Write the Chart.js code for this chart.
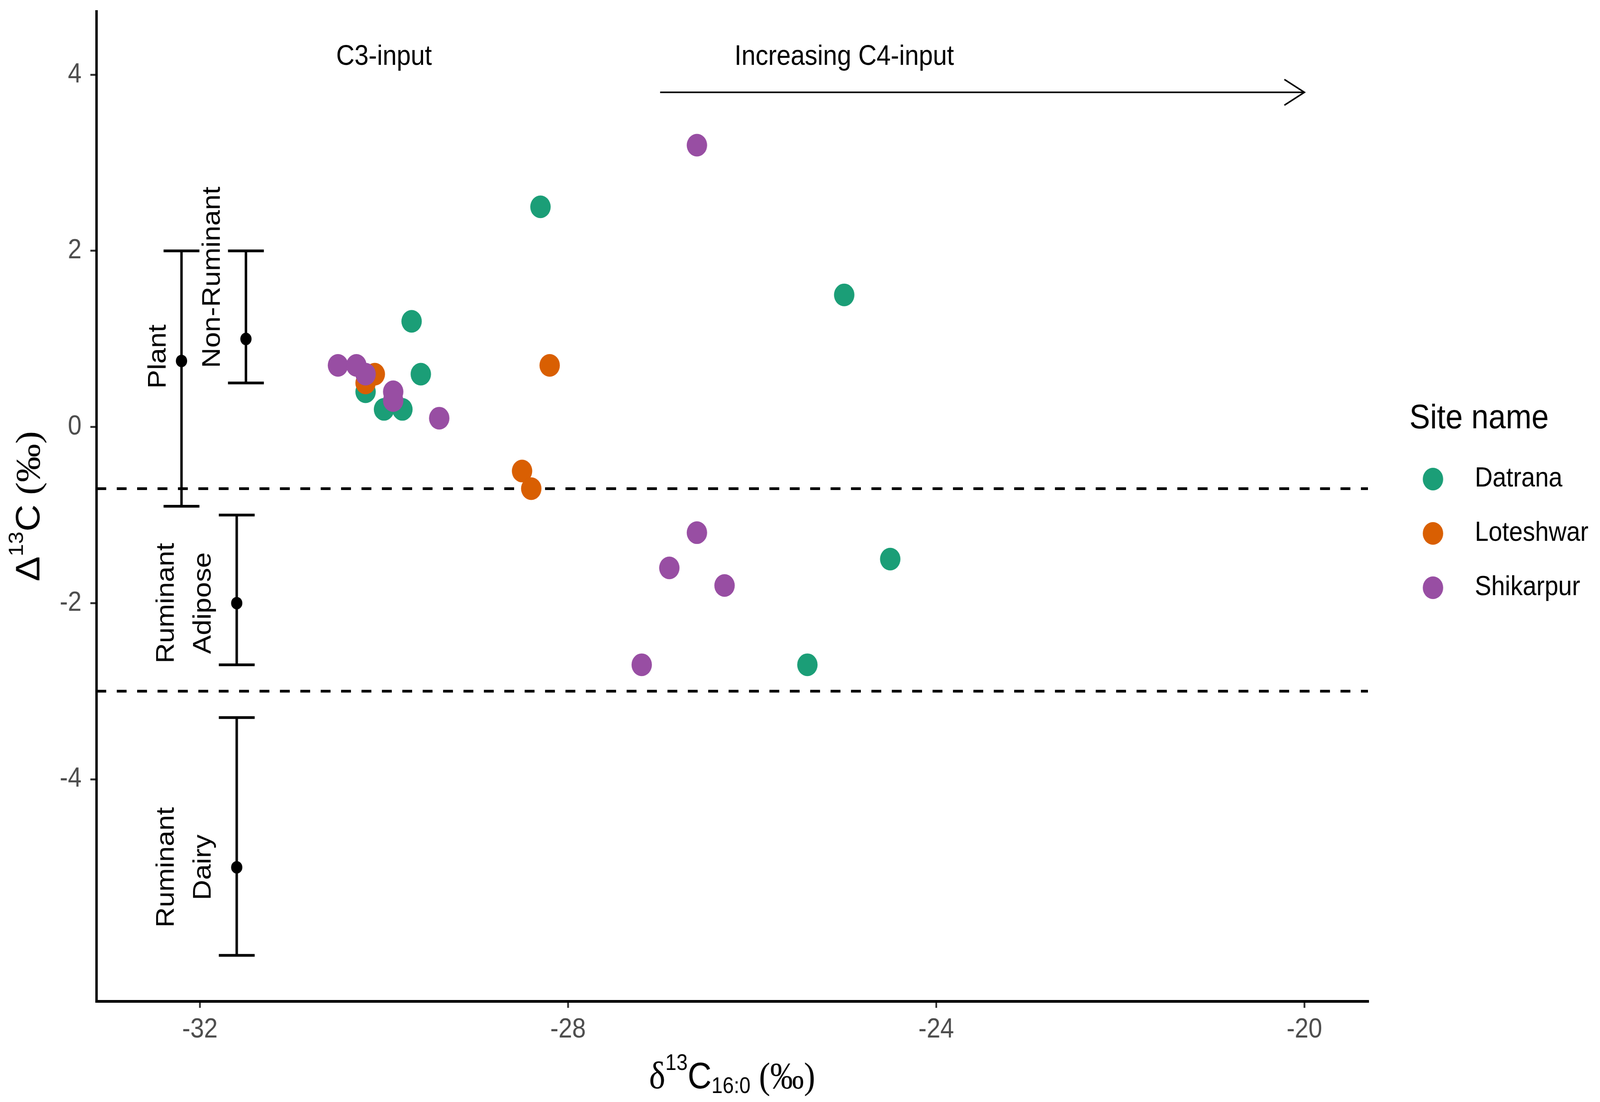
<!DOCTYPE html>
<html>
<head>
<meta charset="utf-8">
<script src="https://cdn.jsdelivr.net/npm/chart.js@4.4.1/dist/chart.umd.min.js"></script>
<style>
  html, body { margin: 0; padding: 0; background: #fff; overflow: hidden; }
  canvas { display: block; }
</style>
</head>
<body>
<!-- backing store stays 4550x2820, css size follows the window -->
<canvas id="isoChart" width="4550" height="2820" style="width:100vw;height:100vh"></canvas>
<script>
// Sample values: delta13C(16:0) on x, Big Delta 13C on y
const datranaX = [-28.3, -25.0, -29.7, -29.6, -30.2, -30.0, -29.8, -24.5, -25.4];
const datranaY = [2.5, 1.5, 1.2, 0.6, 0.4, 0.2, 0.2, -1.5, -2.7];
const loteshwarX = [-30.1, -30.2, -28.2, -28.5, -28.4];
const loteshwarY = [0.6, 0.5, 0.7, -0.5, -0.7];
const shikarpurX = [-26.6, -30.5, -30.3, -30.2, -29.9, -29.9, -29.4, -26.6, -26.9, -26.3, -27.2];
const shikarpurY = [3.2, 0.7, 0.7, 0.6, 0.4, 0.3, 0.1, -1.2, -1.6, -1.8, -2.7];

// Reference ranges (mean with low/high)
const refNames = ['Plant', 'Non-Ruminant', 'Ruminant Adipose', 'Ruminant Dairy'];
const refX = [-32.2, -31.5, -31.6, -31.6];
const refMean = [0.75, 1.0, -2.0, -5.0];
const refLow = [-0.9, 0.5, -2.7, -6.0];
const refHigh = [2.0, 2.0, -1.0, -3.3];

// horizontal boundaries between the groups
const cutoffs = [-0.7, -3.0];

const xTicks = [-32, -28, -24, -20];
const yTicks = [-4, -2, 0, 2, 4];

const FONT = '"Liberation Sans", Arial, sans-serif';
const SERIF = '"Liberation Serif", "DejaVu Serif", serif';

const sites = [
    { name: 'Datrana', xs: datranaX, ys: datranaY, color: '#1B9E77' },
    { name: 'Loteshwar', xs: loteshwarX, ys: loteshwarY, color: '#D95F02' },
    { name: 'Shikarpur', xs: shikarpurX, ys: shikarpurY, color: '#984EA3' },
];

// text labels placed in data units
const notes = [
    { text: 'Plant', x: -32.45, y: 0.8, rot: true },
    { text: 'Non-Ruminant', x: -31.86, y: 1.7, rot: true },
    { text: 'Ruminant', x: -32.36, y: -2.0, rot: true },
    { text: 'Adipose', x: -31.96, y: -2.0, rot: true },
    { text: 'Ruminant', x: -32.36, y: -5.0, rot: true },
    { text: 'Dairy', x: -31.96, y: -5.0, rot: true },
    { text: 'C3-input', x: -30.0, y: 4.2, rot: false },
    { text: 'Increasing C4-input', x: -25.0, y: 4.2, rot: false },
];
const arrowFrom = [-27, 3.8];
const arrowTo = [-20, 3.8];

// draw a row of text pieces (size, vertical shift) centred on 0
function drawRich(ctx, parts) {
    let total = 0;
    parts.forEach(p => {
        ctx.font = p.size + 'px ' + (p.family || FONT);
        p.w = ctx.measureText(p.t).width;
        total += p.w;
    });
    let cx = -total / 2;
    parts.forEach(p => {
        ctx.font = p.size + 'px ' + (p.family || FONT);
        ctx.fillText(p.t, cx, p.dy || 0);
        cx += p.w;
    });
}

const overlay = {
    id: 'overlay',
    beforeDatasetsDraw(chart) {
        const ctx = chart.ctx;
        const xs = chart.scales.x, ys = chart.scales.y;
        const area = chart.chartArea;
        ctx.save();
        // dashed boundaries
        ctx.strokeStyle = '#000';
        ctx.lineWidth = 7;
        ctx.setLineDash([28, 30]);
        cutoffs.forEach(v => {
            const py = ys.getPixelForValue(v);
            ctx.beginPath();
            ctx.moveTo(area.left, py);
            ctx.lineTo(area.right, py);
            ctx.stroke();
        });
        ctx.setLineDash([]);
        // error bars
        ctx.lineWidth = 7;
        refX.forEach((x, i) => {
            const px = xs.getPixelForValue(x);
            const lo = ys.getPixelForValue(refLow[i]);
            const hi = ys.getPixelForValue(refHigh[i]);
            ctx.beginPath();
            ctx.moveTo(px, lo); ctx.lineTo(px, hi);
            ctx.moveTo(px - 51, lo); ctx.lineTo(px + 51, lo);
            ctx.moveTo(px - 51, hi); ctx.lineTo(px + 51, hi);
            ctx.stroke();
        });
        ctx.restore();
    },
    afterDraw(chart) {
        const ctx = chart.ctx;
        const xs = chart.scales.x, ys = chart.scales.y;
        const area = chart.chartArea;
        ctx.save();
        ctx.fillStyle = '#000';
        ctx.textAlign = 'center';
        ctx.textBaseline = 'middle';
        ctx.font = '72px ' + FONT;
        notes.forEach(n => {
            const px = xs.getPixelForValue(n.x);
            const py = ys.getPixelForValue(n.y);
            ctx.save();
            ctx.translate(px, py);
            if (n.rot) ctx.rotate(-Math.PI / 2);
            ctx.fillText(n.text, 0, 0);
            ctx.restore();
        });

        // arrow
        const ax0 = xs.getPixelForValue(arrowFrom[0]), ay = ys.getPixelForValue(arrowFrom[1]);
        const ax1 = xs.getPixelForValue(arrowTo[0]);
        ctx.strokeStyle = '#000';
        ctx.lineWidth = 4;
        ctx.beginPath();
        ctx.moveTo(ax0, ay); ctx.lineTo(ax1, ay);
        ctx.moveTo(ax1 - 57, ay - 33); ctx.lineTo(ax1, ay); ctx.lineTo(ax1 - 57, ay + 33);
        ctx.stroke();

        // axis titles
        ctx.textAlign = 'left';
        ctx.textBaseline = 'alphabetic';
        ctx.save();
        ctx.translate((area.left + area.right) / 2, 2785);
        drawRich(ctx, [
            { t: 'δ', size: 98, family: SERIF },
            { t: '13', size: 57, dy: -47 },
            { t: 'C', size: 94 },
            { t: '16:0', size: 57, dy: 12 },
            { t: ' (‰)', size: 96, family: SERIF },
        ]);
        ctx.restore();
        ctx.save();
        ctx.translate(112, (area.top + area.bottom) / 2);
        ctx.rotate(-Math.PI / 2);
        drawRich(ctx, [
            { t: 'Δ', size: 96 },
            { t: '13', size: 57, dy: -47 },
            { t: 'C', size: 96 },
            { t: ' (‰)', size: 98, family: SERIF },
        ]);
        ctx.restore();

        // legend
        ctx.font = '88px ' + FONT;
        ctx.textBaseline = 'middle';
        ctx.fillText('Site name', 4008, 1072);
        ctx.font = '70px ' + FONT;
        sites.forEach((s, i) => {
            const cy = 1226 + i * 139;
            ctx.fillStyle = s.color;
            ctx.beginPath();
            ctx.arc(4075, cy, 29, 0, Math.PI * 2);
            ctx.fill();
            ctx.fillStyle = '#000';
            ctx.fillText(s.name, 4194, cy);
        });
        ctx.restore();
    }
};

const ctx = document.getElementById('isoChart').getContext('2d');

const datasets = sites.map((s, i) => ({
    label: s.name,
    data: s.xs.map((x, j) => ({ x: x, y: s.ys[j] })),
    backgroundColor: s.color,
    borderWidth: 0,
    pointRadius: 29,
    order: sites.length - i,
}));
datasets.push({
    label: 'Reference',
    data: refX.map((x, i) => ({ x: x, y: refMean[i] })),
    backgroundColor: '#000',
    borderWidth: 0,
    pointRadius: 16,
    order: 10,
});

const isoChart = new Chart(ctx, {
    type: 'scatter',
    data: { datasets: datasets },
    options: {
        responsive: false,
        animation: false,
        devicePixelRatio: 1,
        events: [],
        layout: { padding: { top: 13, right: 660, bottom: 0, left: 0 } },
        plugins: {
            legend: { display: false },
            tooltip: { enabled: false },
        },
        scales: {
            x: {
                type: 'linear',
                min: -33.125,
                max: -19.31,
                border: { display: true, color: '#000', width: 7 },
                grid: { drawOnChartArea: false, drawTicks: true, tickLength: 17, color: '#333', lineWidth: 5 },
                ticks: { color: '#4d4d4d', font: { family: FONT, size: 70 }, padding: 15 },
                afterBuildTicks: s => { s.ticks = xTicks.map(v => ({ value: v })); },
                afterFit: s => { s.height = 258; s.paddingLeft = 0; s.paddingRight = 0; },
            },
            y: {
                type: 'linear',
                min: -6.52,
                max: 4.72,
                border: { display: true, color: '#000', width: 7 },
                grid: { drawOnChartArea: false, drawTicks: true, tickLength: 17, color: '#333', lineWidth: 5 },
                ticks: { color: '#4d4d4d', font: { family: FONT, size: 70 }, padding: 25 },
                afterBuildTicks: s => { s.ticks = yTicks.map(v => ({ value: v })); },
                afterFit: s => { s.width = 274; s.paddingTop = 0; s.paddingBottom = 0; },
            },
        },
    },
    plugins: [overlay],
});
</script>
</body>
</html>
